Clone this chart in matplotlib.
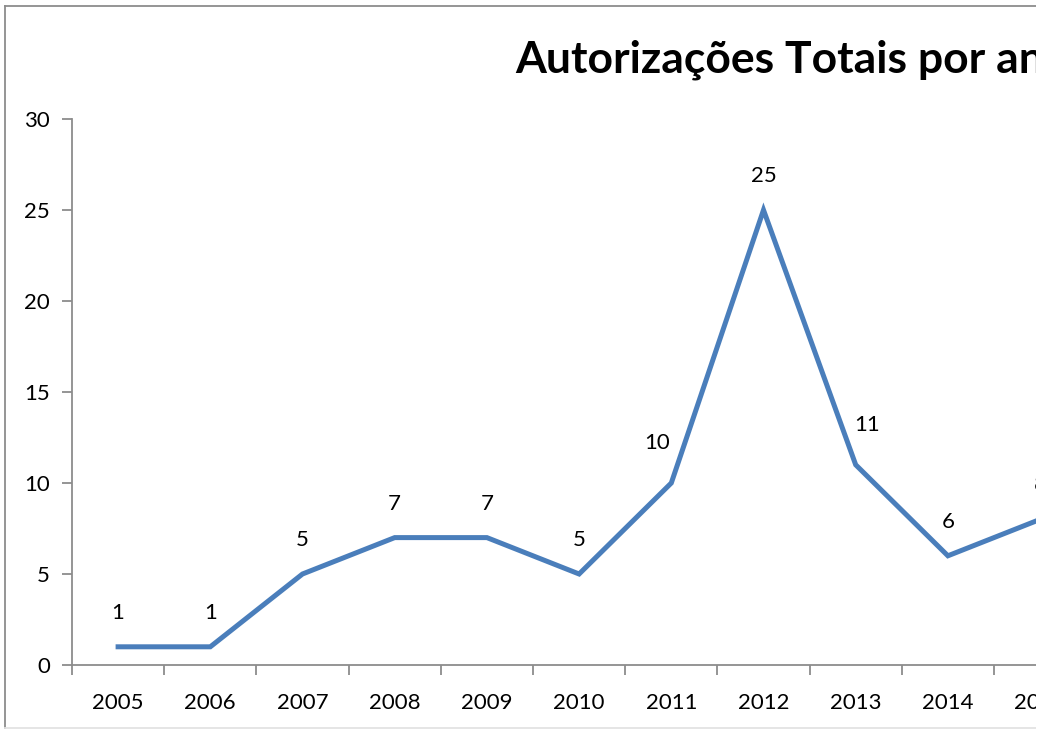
import matplotlib.pyplot as plt
from matplotlib.lines import Line2D
from matplotlib.patches import Rectangle

anos = ["2005", "2006", "2007", "2008", "2009", "2010", "2011", "2012", "2013", "2014", "2015"]
autorizacoes = [1, 1, 5, 7, 7, 5, 10, 25, 11, 6, 8]
titulo = "Autorizações Totais por ano"

plt.rcParams['font.family'] = ['Lato', 'DejaVu Sans']

W, H = 1041, 731
fig = plt.figure(figsize=(W / 100, H / 100), dpi=100)

# axes box in pixels: left 72, bottom y=665, top y=119, 92.2 px per category
step = 92.2
left, right = 72, 72 + step * len(anos)
ax = fig.add_axes([left / W, (H - 665) / H, (right - left) / W, (665 - 119) / H])

x = list(range(len(anos)))
ax.plot(x, autorizacoes, color="#4A7EBB", lw=3.6, solid_joinstyle="miter", clip_on=False)

# excel moved a couple of labels sideways
dx = {6: -14, 8: 11}
dy = {6: 40, 8: 40}
for i, v in enumerate(autorizacoes):
    ax.annotate(str(v), (i, v), xytext=(dx.get(i, 0) * 0.72, dy.get(i, 34) * 0.72),
                textcoords="offset points", ha="center", va="center", fontsize=16)

ax.set_xlim(-0.5, len(anos) - 0.5)
ax.set_ylim(0, 30)
ax.set_yticks(range(0, 31, 5))
ax.set_xticks(x)
ax.set_xticklabels(anos)
ax.set_xticks([i - 0.5 for i in range(len(anos) + 1)], minor=True)

for s in ["top", "right"]:
    ax.spines[s].set_visible(False)
for s in ["left", "bottom"]:
    ax.spines[s].set_color("#8c8c8c")
    ax.spines[s].set_linewidth(1.3)

ax.tick_params(axis="y", length=7, width=1.3, color="#8c8c8c", labelsize=16, pad=9)
ax.tick_params(axis="x", which="major", length=0, labelsize=16, pad=20)
ax.tick_params(axis="x", which="minor", length=7, width=1.3, color="#8c8c8c")

fig.text(515 / W, 1 - 60 / H, titulo, fontsize=32, fontweight="bold", ha="left", va="center")

# the screenshot is cropped: white strip on the right edge
fig.add_artist(Rectangle((1036 / W, 0), 10 / W, 1, transform=fig.transFigure,
                         facecolor="white", edgecolor="none", zorder=10))

# chart border
fig.add_artist(Line2D([5 / W, 5 / W], [1 - 6 / H, 1 - 728 / H], color="#8c8c8c", lw=1.3))
fig.add_artist(Line2D([5 / W, 1036 / W], [1 - 6 / H, 1 - 6 / H], color="#8c8c8c", lw=1.3))
fig.add_artist(Line2D([5 / W, 1036 / W], [1 - 728 / H, 1 - 728 / H], color="#e3e3e3", lw=1.3))

fig.savefig("out.png", dpi=100)
